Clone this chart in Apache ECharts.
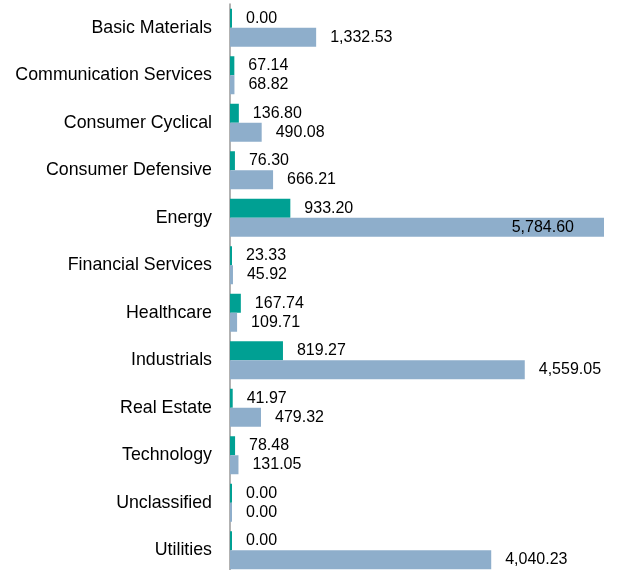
<!DOCTYPE html>
<html style="height: 100%">
<head>
<meta charset="utf-8">
<script src="https://cdn.jsdelivr.net/npm/echarts@6/dist/echarts.min.js"></script>
</head>
<body style="height: 100%; margin: 0; background: #fff">
<div id="container" style="width: 624px; height: 570px"></div>
<script type="text/javascript">
var categories = ['Basic Materials', 'Communication Services', 'Consumer Cyclical', 'Consumer Defensive',
    'Energy', 'Financial Services', 'Healthcare', 'Industrials', 'Real Estate', 'Technology',
    'Unclassified', 'Utilities'];
var tealValues = [0.00, 67.14, 136.80, 76.30, 933.20, 23.33, 167.74, 819.27, 41.97, 78.48, 0.00, 0.00];
var blueValues = [1332.53, 68.82, 490.08, 666.21, 5784.60, 45.92, 109.71, 4559.05, 479.32, 131.05, 0.00, 4040.23];

var fmt = function (p) {
    return p.value.toLocaleString('en-US', {minimumFractionDigits: 2, maximumFractionDigits: 2});
};
var maxVal = Math.max.apply(null, blueValues);

// biggest bar gets its label inside
var blueData = blueValues.map(function (v) {
    if (v === maxVal) {
        return {value: v, label: {position: 'insideRight', distance: 30}};
    }
    return v;
});

var myChart = echarts.init(document.getElementById('container'));
var option = {
    animation: false,
    grid: {left: 230, right: 20, top: 4, height: 570, outerBoundsMode: 'none'},
    xAxis: {type: 'value', min: 0, max: maxVal, show: false},
    yAxis: {
        type: 'category',
        inverse: true,
        data: categories,
        axisTick: {show: false},
        axisLine: {lineStyle: {color: '#999', width: 1.5}},
        axisLabel: {color: '#000', fontSize: 17.8, fontFamily: 'Liberation Sans, Arial', margin: 18}
    },
    series: [
        {
            type: 'bar',
            data: tealValues,
            barWidth: '40%',
            barGap: '0%',
            barMinHeight: 2,
            itemStyle: {color: '#00a093'},
            label: {show: true, position: 'right', distance: 14, color: '#000', fontSize: 16,
                fontFamily: 'Liberation Sans, Arial', formatter: fmt}
        },
        {
            type: 'bar',
            data: blueData,
            barWidth: '40%',
            barGap: '0%',
            barMinHeight: 2,
            itemStyle: {color: '#8eaecb'},
            label: {show: true, position: 'right', distance: 14, color: '#000', fontSize: 16,
                fontFamily: 'Liberation Sans, Arial', formatter: fmt}
        }
    ]
};
myChart.setOption(option);
</script>
</body>
</html>
